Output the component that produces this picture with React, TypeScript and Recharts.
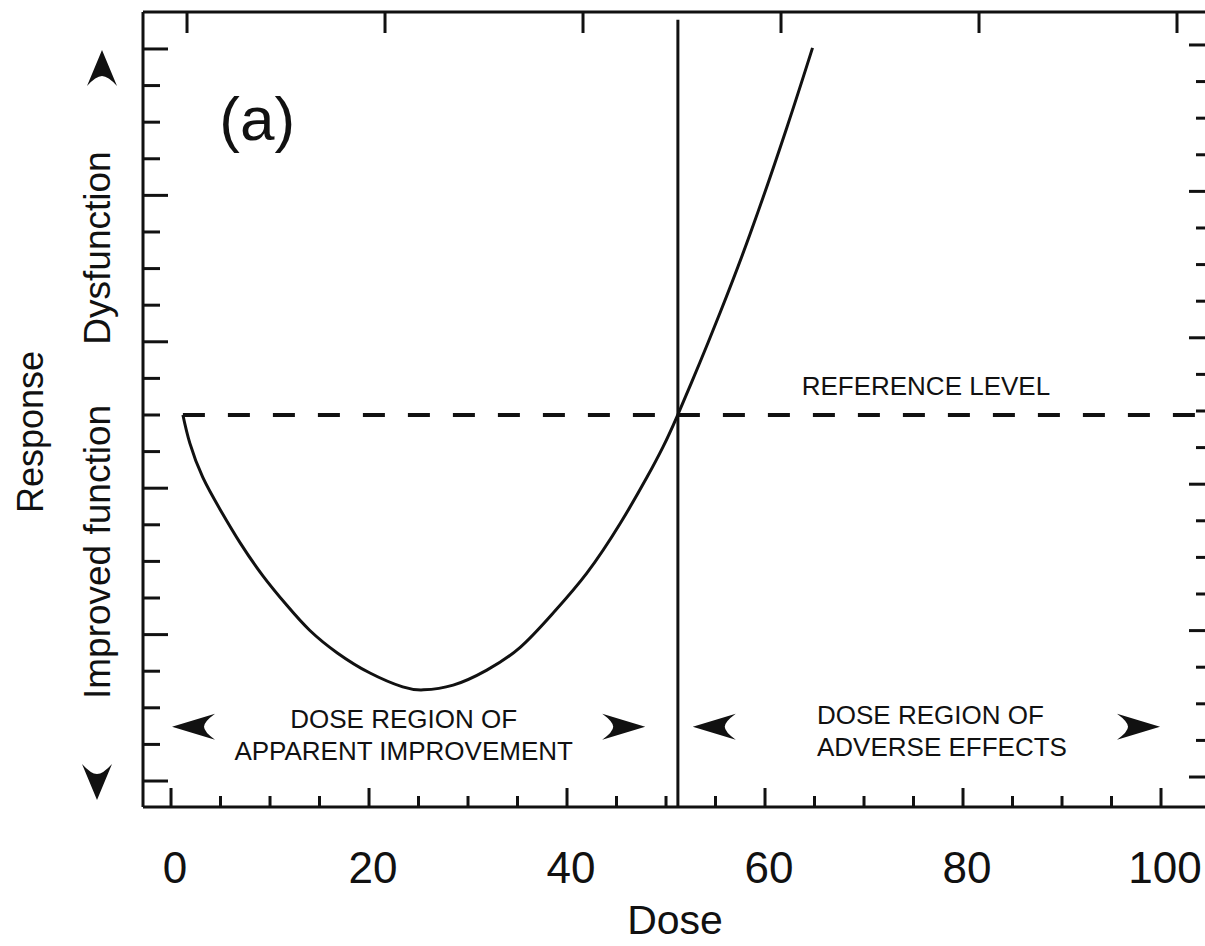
import { LineChart, Line, XAxis, YAxis, ReferenceLine, ReferenceDot } from "recharts";

// curve: dose vs. response (reference level = 0)
const doses = [1.2, 1.9, 3.2, 5.0, 7.0, 9.3, 11.7, 14.0, 16.8, 20.1, 23.4, 25.5, 28.5, 31.9, 35.3, 38.6, 42.0, 45.4, 48.1, 49.7, 51.1, 53.4, 55.5, 58.5, 62.2, 64.8];
const responses = [0, -0.77, -1.7, -2.6, -3.5, -4.4, -5.2, -5.88, -6.5, -7.05, -7.43, -7.51, -7.38, -6.97, -6.34, -5.41, -4.32, -2.95, -1.69, -0.87, -0.05, 1.42, 2.82, 4.95, 7.85, 10.03];

const doseTicks = [0, 5, 10, 15, 20, 25, 30, 35, 40, 45, 50, 55, 60, 65, 70, 75, 80, 85, 90, 95, 100];
const doseLabels = [0, 20, 40, 60, 80, 100];
const responseTicks = [-10, -9, -8, -7, -6, -5, -4, -3, -2, -1, 0, 1, 2, 3, 4, 5, 6, 7, 8, 9, 10];
const majorResponseTicks = [-10, -6, -2, 2, 6, 10];

const doseDomain = [-2.83, 105.05];
const responseDomain = [-10.71, 11.01];
const referenceLevel = 0;
const thresholdDose = 51.2;

const leftArrows = [0.1, 52.7];
const rightArrows = [47.9, 99.9];
const arrowLevel = -8.52;

const data = doses.map((d, i) => ({ dose: d, response: responses[i] }));

const FONT = '"Liberation Sans", Arial, Helvetica, sans-serif';
const INK = "#111";

const BottomTick = (props: any) => {
  const { x, y, payload } = props;
  const major = doseLabels.includes(payload.value);
  return (
    <g>
      <line x1={x} x2={x} y1={y} y2={y - (major ? 19 : 11)} stroke={INK} strokeWidth={3} />
      {major && (
        <text x={x + 4} y={y + 76} textAnchor="middle" fontSize={44} fontFamily={FONT} fill={INK}>
          {payload.value}
        </text>
      )}
    </g>
  );
};

// top ticks sit a bit to the right in the original scan
const TopTick = (props: any) => {
  const { x, y } = props;
  return <line x1={x + 16} x2={x + 16} y1={y} y2={y + 21} stroke={INK} strokeWidth={3} />;
};

const LeftTick = (props: any) => {
  const { x, y, payload } = props;
  const major = majorResponseTicks.includes(payload.value);
  return <line x1={x} x2={x + (major ? 25 : 17)} y1={y} y2={y} stroke={INK} strokeWidth={3} />;
};

const RightTick = (props: any) => {
  const { x, y, payload } = props;
  const major = majorResponseTicks.includes(payload.value);
  return <line x1={x} x2={x - (major ? 22 : 15)} y1={y - 4} y2={y - 4} stroke={INK} strokeWidth={3} />;
};

const arrowHead = (dir: "left" | "right") => (props: any) => {
  const { cx, cy } = props;
  const s = dir === "right" ? 1 : -1;
  const p = (dx: number, dy: number) => `${cx + s * dx},${cy + dy}`;
  return (
    <path
      d={`M${p(0, 0)} L${p(-43, -13)} Q${p(-32, -5)} ${p(-32, 0)} Q${p(-32, 5)} ${p(-43, 13)} Z`}
      fill={INK}
    />
  );
};

const textShape = (lines: string[], size: number, anchor: "start" | "middle") => (props: any) => {
  const { cx, cy } = props;
  return (
    <text x={cx} y={cy} textAnchor={anchor} fontSize={size} fontFamily={FONT} fill={INK}>
      {lines.map((l, i) => (
        <tspan key={i} x={cx} dy={i === 0 ? 0 : size * 1.23}>
          {l}
        </tspan>
      ))}
    </text>
  );
};

const axisLine = { stroke: INK, strokeWidth: 3 };

export default function App() {
  return (
    <div style={{ position: "fixed", left: 0, top: 0, width: 1205, height: 946, overflow: "hidden", background: "#fff" }}>
      <LineChart width={1218} height={946} data={data} margin={{ top: 2, right: 2, bottom: 79, left: 83 }}>
        <XAxis
          dataKey="dose"
          type="number"
          domain={doseDomain}
          ticks={doseTicks}
          interval={0}
          allowDataOverflow
          height={60}
          tickSize={0}
          tickMargin={0}
          tickLine={false}
          axisLine={axisLine}
          tick={<BottomTick />}
        />
        <XAxis
          xAxisId="top"
          orientation="top"
          dataKey="dose"
          type="number"
          domain={doseDomain}
          ticks={doseLabels}
          interval={0}
          allowDataOverflow
          height={10}
          tickSize={0}
          tickMargin={0}
          tickLine={false}
          axisLine={axisLine}
          tick={<TopTick />}
        />
        <YAxis
          type="number"
          domain={responseDomain}
          ticks={responseTicks}
          interval={0}
          allowDataOverflow
          width={60}
          tickSize={0}
          tickMargin={0}
          tickLine={false}
          axisLine={axisLine}
          tick={<LeftTick />}
        />
        <YAxis
          yAxisId="right"
          orientation="right"
          type="number"
          domain={responseDomain}
          ticks={responseTicks}
          interval={0}
          allowDataOverflow
          width={5}
          tickSize={0}
          tickMargin={0}
          tickLine={false}
          axisLine={axisLine}
          tick={<RightTick />}
        />

        <ReferenceLine
          segment={[{ x: doses[0], y: referenceLevel }, { x: doseDomain[1], y: referenceLevel }]}
          stroke={INK}
          strokeWidth={4}
          strokeDasharray="22 23"
        />
        <ReferenceLine
          segment={[{ x: thresholdDose, y: responseDomain[0] }, { x: thresholdDose, y: 10.8 }]}
          stroke={INK}
          strokeWidth={3}
        />

        <Line
          type="natural"
          dataKey="response"
          stroke={INK}
          strokeWidth={3}
          dot={false}
          isAnimationActive={false}
        />

        <ReferenceDot x={8.7} y={7.5} r={0} shape={textShape(["(a)"], 62, "middle")} />
        <ReferenceDot x={63.7} y={0.55} r={0} shape={textShape(["REFERENCE LEVEL"], 26, "start")} />
        <ReferenceDot x={23.5} y={-8.55} r={0} shape={textShape(["DOSE REGION OF", "APPARENT IMPROVEMENT"], 26, "middle")} />
        <ReferenceDot x={65.25} y={-8.45} r={0} shape={textShape(["DOSE REGION OF", "ADVERSE EFFECTS"], 26, "start")} />
        {leftArrows.map((d) => (
          <ReferenceDot key={`l${d}`} x={d} y={arrowLevel} r={0} shape={arrowHead("left")} />
        ))}
        {rightArrows.map((d) => (
          <ReferenceDot key={`r${d}`} x={d} y={arrowLevel} r={0} shape={arrowHead("right")} />
        ))}

        {/* axis titles on the response side */}
        <g fontFamily={FONT} fill={INK}>
          <text transform="translate(43,432) rotate(-90)" textAnchor="middle" fontSize={36}>Response</text>
          <text transform="translate(110,552) rotate(-90)" textAnchor="middle" fontSize={37}>Improved function</text>
          <text transform="translate(110,248) rotate(-90)" textAnchor="middle" fontSize={37}>Dysfunction</text>
          <text x={675} y={934} textAnchor="middle" fontSize={41}>Dose</text>
          <path d="M102,50 L87,86 Q96,76 102,76 Q108,76 117,86 Z" fill={INK} />
          <path d="M97,800 L82,764 Q91,774 97,774 Q103,774 112,764 Z" fill={INK} />
        </g>
      </LineChart>
    </div>
  );
}
